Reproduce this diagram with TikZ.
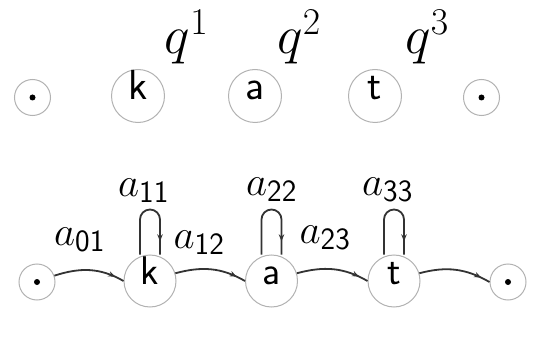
\RequirePackage{fix-cm}
\documentclass[tikz,border=0pt]{standalone}
\usetikzlibrary{arrows.meta,decorations.markings}
\DeclareMathSizes{41}{41}{31}{23}
\begin{document}
\begin{tikzpicture}[x=1pt,y=1pt,
  state/.style={circle,draw=gray!60,line width=1pt,inner sep=0pt,
    text height=0.7em,text depth=0pt},
  topstate/.style={state,minimum size=53pt,font=\sffamily\fontsize{42}{44}\selectfont},
  botstate/.style={state,minimum size=52pt,font=\sffamily\fontsize{40}{42}\selectfont},
  dotnode/.style={circle,draw=gray!60,line width=1pt,inner sep=0pt,minimum size=36pt},
  conn/.style={line width=1.8pt,draw=black!80,postaction={decorate},
    decoration={markings,mark=at position 0.87 with {\arrow{Stealth[length=7pt,width=5.5pt]}}}},
  lab/.style={inner sep=0pt,font=\fontsize{41}{43}\selectfont},
  qlab/.style={inner sep=0pt,anchor=base,font=\fontsize{54}{56}\selectfont}]
\useasboundingbox (0,0) rectangle (533,338);
% top row
\node[dotnode] (t0) at (32.5,240.5) {};
\fill[black] (t0) circle (3pt);
\node[topstate] (t1) at (138,242) {k};
\node[topstate] (t2) at (255,242) {a};
\node[topstate] (t3) at (375,242) {t};
\node[dotnode] (t4) at (481.5,240.5) {};
\fill[black] (t4) circle (3pt);
\node[qlab] (q1) at (186.5,284) {$q^1$};
\node[qlab] (q2) at (299,284) {$q^2$};
\node[qlab] (q3) at (427,284) {$q^3$};
% bottom row
\node[dotnode] (b0) at (37,56) {};
\fill[black] (b0) circle (3pt);
\node[botstate] (b1) at (150,57) {k};
\node[botstate] (b2) at (271.5,57) {a};
\node[botstate] (b3) at (394,57) {t};
\node[dotnode] (b4) at (508,56) {};
\fill[black] (b4) circle (3pt);
% transitions
\draw[conn] (b0.20) to[out=18,in=150] (b1.west);
\draw[conn] (b1.17) to[out=15,in=150] (b2.west);
\draw[conn] (b2.17) to[out=15,in=150] (b3.west);
\draw[conn] (b3.17) to[out=15,in=150] (b4.west);
% self loops
\foreach \n in {b1,b2,b3}{
  \draw[conn] ([xshift=-10pt]\n.north) -- ++(0,35)
    arc[start angle=180,end angle=0,radius=10pt] -- ([xshift=10pt]\n.north);
}
% labels
\node[lab] (l01) at (79.5,98) {$a_{\mathsf{01}}$};
\node[lab] (l11) at (143.5,147.5) {$a_{\mathsf{11}}$};
\node[lab] (l12) at (199,95.5) {$a_{\mathsf{12}}$};
\node[lab] (l22) at (271.5,148) {$a_{\mathsf{22}}$};
\node[lab] (l23) at (325,100) {$a_{\mathsf{23}}$};
\node[lab] (l33) at (387.5,148) {$a_{\mathsf{33}}$};
\end{tikzpicture}
\end{document}
